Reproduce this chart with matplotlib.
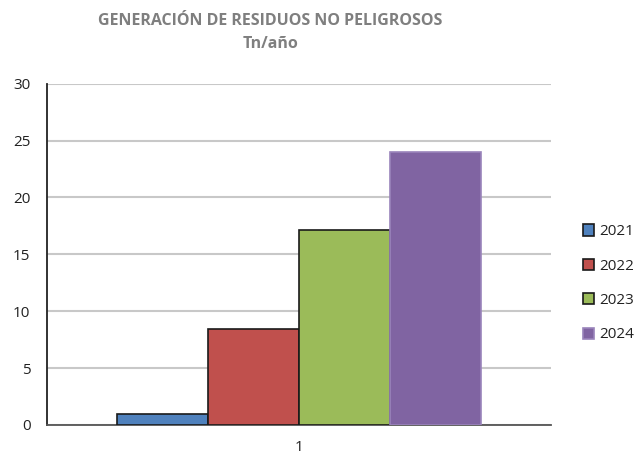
import matplotlib.pyplot as plt

plt.rcParams['font.family'] = ['Open Sans', 'DejaVu Sans']

years = ['2021', '2022', '2023', '2024']
values = [1.0, 8.4, 17.1, 24.0]
colors = ['#4F81BD', '#C0504D', '#9BBB59', '#8064A2']
edges = ['#1a1a1a', '#1a1a1a', '#1a1a1a', '#9a84bb']
category = [1]
title = 'GENERACIÓN DE RESIDUOS NO PELIGROSOS'
subtitle = 'Tn/año'

fig = plt.figure(figsize=(6.37, 4.55), dpi=100)
ax = fig.add_axes([0.074, 0.066, 0.791, 0.750])

width = 0.181
for i, (yr, v) in enumerate(zip(years, values)):
    x = category[0] + (i - 1.5) * width
    ax.bar(x, v, width=width, color=colors[i], edgecolor=edges[i],
           linewidth=1.2, label=yr, zorder=3)

ax.set_xlim(0.5, 1.5)
ax.set_ylim(0, 30)
ax.set_yticks(range(0, 31, 5))
ax.set_xticks(category)
ax.set_xticklabels(['1'])
ax.yaxis.grid(True, color='#c8c8c8', linewidth=1.5, zorder=0)
ax.set_axisbelow(True)
ax.tick_params(length=0, labelsize=11, colors='#222222')
ax.tick_params(axis='y', pad=12)
ax.tick_params(axis='x', pad=10.5)

for s in ['top', 'right']:
    ax.spines[s].set_visible(False)
ax.spines['left'].set_color('#222222')
ax.spines['left'].set_linewidth(1.3)
ax.spines['bottom'].set_color('#555555')
ax.spines['bottom'].set_linewidth(1.3)

fig.text(0.424, 0.954, title, ha='center', va='center', fontsize=11.5,
         fontweight='bold', color='#7f7f7f')
fig.text(0.424, 0.903, subtitle, ha='center', va='center', fontsize=11.5,
         fontweight='bold', color='#7f7f7f')

leg = ax.legend(loc='center left', bbox_to_anchor=(1.036, 0.415), frameon=False,
                fontsize=11, handlelength=0.75, handleheight=0.75,
                handletextpad=0.35, labelspacing=1.27)
for t in leg.get_texts():
    t.set_color('#222222')

fig.savefig('out.png', dpi=100)
